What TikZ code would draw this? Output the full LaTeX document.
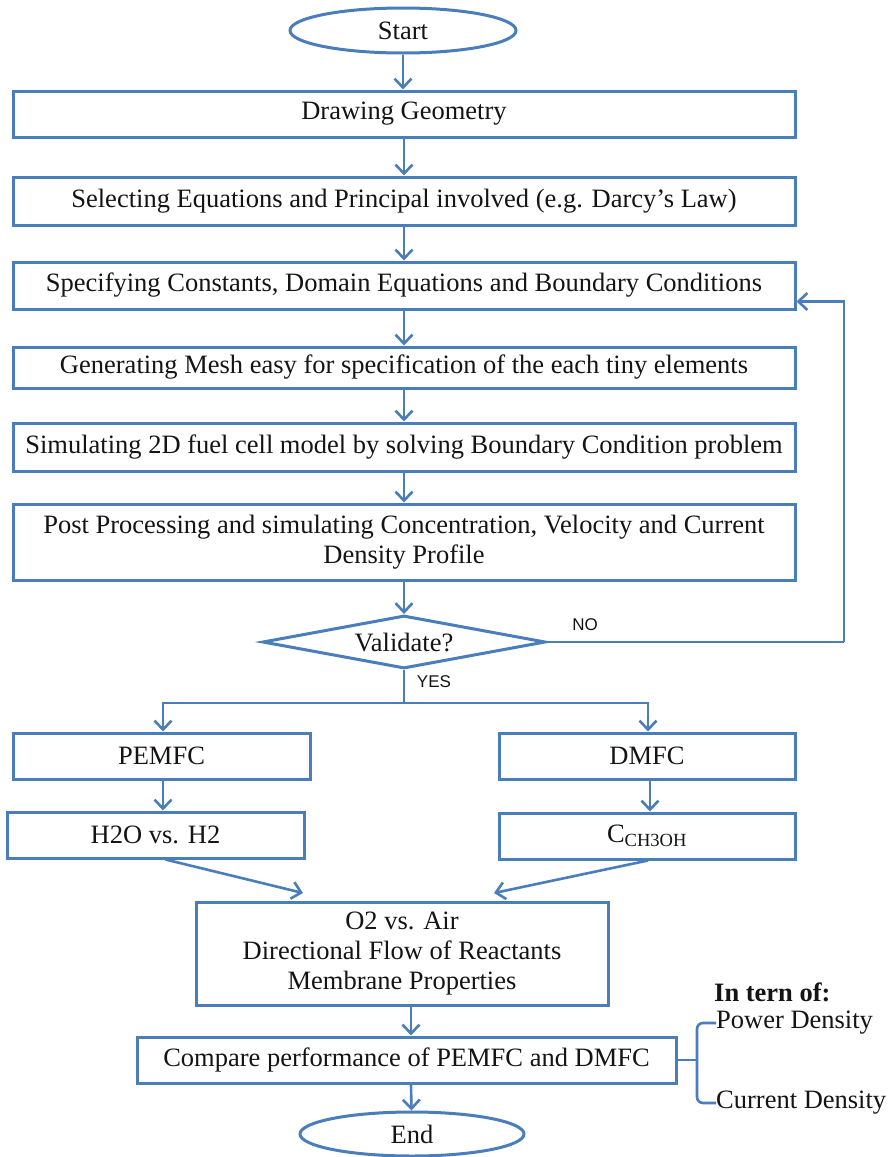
\documentclass[tikz,border=0pt]{standalone}
\usepackage{fontspec}
\setmainfont{Liberation Serif}
\newfontfamily\labsans{Liberation Sans}
\usetikzlibrary{shapes.geometric,arrows.meta}
\definecolor{lineblue}{RGB}{74,126,187}
\definecolor{txt}{RGB}{20,20,20}
\begin{document}
\begin{tikzpicture}[x=1pt,y=-1pt,
  every node/.style={text=txt},
  box/.style={draw=lineblue,line width=3pt,rectangle,inner sep=0pt,font=\fontsize{26.5}{29.5}\selectfont,align=center},
  term/.style={draw=lineblue,line width=3pt,ellipse,inner sep=0pt,font=\fontsize{26.5}{29.5}\selectfont},
  decide/.style={draw=lineblue,line width=3pt,diamond,shape aspect=5.3,inner sep=0pt,font=\fontsize{26.5}{29.5}\selectfont},
  conn/.style={draw=lineblue,line width=2.6pt},
  arr/.style={conn,-{Straight Barb[length=9pt,width=17pt,line width=2.6pt]}},
  lab/.style={font=\labsans\fontsize{17}{20}\selectfont},
  side/.style={font=\fontsize{26.5}{29.5}\selectfont,anchor=west,inner sep=0pt}]
\useasboundingbox (0,0) rectangle (887,1157);
\node[term,minimum width=226,minimum height=45] (start) at (403,30.5) {Start};
\node[box,minimum width=782,minimum height=46] (geo) at (404,114) {Drawing Geometry};
\node[box,minimum width=782,minimum height=48] (sel) at (404,201) {Selecting Equations and Principal involved (e.g. Darcy’s Law)};
\node[box,minimum width=782,minimum height=47] (spec) at (404,285.5) {Specifying Constants, Domain Equations and Boundary Conditions};
\node[box,minimum width=782,minimum height=41] (gen) at (404,367.5) {Generating Mesh easy for specification of the each tiny elements};
\node[box,minimum width=782,minimum height=48] (sim) at (404,447) {Simulating 2D fuel cell model by solving Boundary Condition problem};
\node[box,minimum width=782,minimum height=76] (post) at (404,542) {Post Processing and simulating Concentration, Velocity and Current\\Density Profile};
\node[decide,minimum width=283,minimum height=53] (val) at (404,642) {Validate?};
\node[box,minimum width=297,minimum height=46] (pem) at (161.5,756) {PEMFC};
\node[box,minimum width=296,minimum height=46] (dm) at (647,756) {DMFC};
\node[box,minimum width=297,minimum height=46] (h2o) at (155.5,835) {H2O vs. H2};
\node[box,minimum width=296,minimum height=46] (cch) at (647,836) {C\textsubscript{CH3OH}};
\node[box,minimum width=412,minimum height=103,font=\fontsize{26.5}{30}\selectfont] (o2) at (402,953.5) {O2 vs. Air\\Directional Flow of Reactants\\Membrane Properties};
\node[box,minimum width=539,minimum height=46] (cmp) at (406.5,1060) {Compare performance of PEMFC and DMFC};
\node[term,minimum width=224,minimum height=44] (end) at (412,1134) {End};
\node[lab] (no) at (585,625) {NO};
\node[lab] (yes) at (434,682) {YES};
\node[side,font=\bfseries\fontsize{26.5}{29.5}\selectfont] (tern) at (714,992) {In tern of:};
\node[side] (pd) at (716,1023) {Power Density};
\node[side] (cd) at (716,1103) {Current Density};
\coordinate (br) at (404,703);
\coordinate (loopc) at (844,642);
\coordinate (tipL) at (303,893);
\coordinate (tipR) at (494,893);
\coordinate (brk) at (697,1060);
% connectors
\draw[arr] (start.south) -- (start.south |- geo.north);
\draw[arr] (geo.south) -- (sel.north);
\draw[arr] (sel.south) -- (spec.north);
\draw[arr] (spec.south) -- (gen.north);
\draw[arr] (gen.south) -- (sim.north);
\draw[arr] (sim.south) -- (post.north);
\draw[arr] (post.south) -- (val.north);
\draw[conn] (val.east) -- (loopc);
\draw[arr] (loopc) |- ([yshift=-16pt]spec.east);
\draw[conn] (val.south) -- (br);
\draw[arr] (br) -| ([xshift=1.5pt]pem.north);
\draw[arr] (br) -| ([xshift=1pt]dm.north);
\draw[arr] ([xshift=1.5pt]pem.south) -- ([xshift=7.5pt]h2o.north);
\draw[arr] ([xshift=3pt]dm.south) -- ([xshift=3pt]cch.north);
\draw[arr] ([xshift=10pt]h2o.south) -- (tipL);
\draw[arr] ([xshift=1pt]cch.south) -- (tipR);
\draw[arr] ([xshift=9pt]o2.south) -- ([xshift=4.5pt]cmp.north);
\draw[arr] ([xshift=4.5pt]cmp.south) -- ([xshift=-0.5pt]end.north);
\draw[conn] (cmp.east) -- (brk);
\draw[conn,rounded corners=6pt] (pd.west) -| (brk) |- (cd.west);
\end{tikzpicture}
\end{document}
